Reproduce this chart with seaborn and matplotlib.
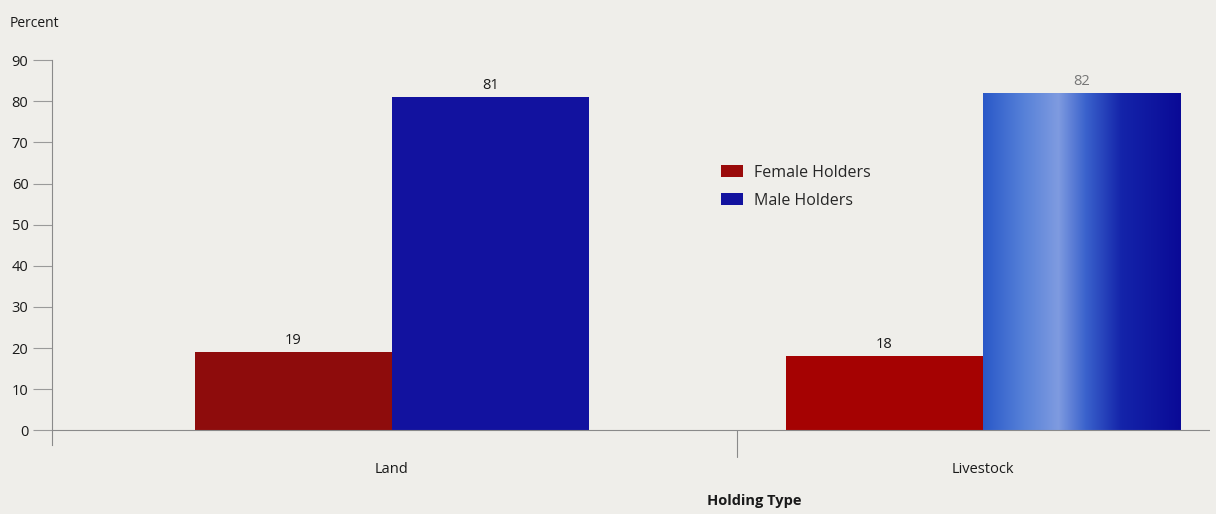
import matplotlib
matplotlib.use("Agg")
import matplotlib.pyplot as plt
import seaborn as sns
import numpy as np
import pandas as pd
from matplotlib.patches import Patch
from matplotlib.colors import LinearSegmentedColormap

categories = ["Land", "Livestock"]
series = ["Female Holders", "Male Holders"]
female_values = [19, 18]
male_values = [81, 82]
yticks = [0, 10, 20, 30, 40, 50, 60, 70, 80, 90]

df = pd.DataFrame({
    "Holding Type": categories * 2,
    "Holder": [series[0]] * 2 + [series[1]] * 2,
    "Percent": female_values + male_values,
})

bg = "#efeeea"
sns.set_theme(style="white")
plt.rcParams["font.family"] = ["Open Sans", "DejaVu Sans"]

fig = plt.figure(figsize=(12.16, 5.14), dpi=100, facecolor=bg)
ax = fig.add_axes([0.0428, 0.134, 0.9522, 0.749])
ax.set_facecolor(bg)

palette = {"Female Holders": "#9a0a0a", "Male Holders": "#12129f"}
sns.barplot(data=df, x="Holding Type", y="Percent", hue="Holder",
            palette=palette, width=0.667, saturation=1, ax=ax,
            legend=False, linewidth=0, errorbar=None)

bars = [p for p in ax.patches]
female_cols = ["#8e0c0c", "#a50202"]
for p, c in zip(bars[:2], female_cols):
    p.set_facecolor(c)

# Gradient for Livestock male bar
gbar = bars[3]
cmap = LinearSegmentedColormap.from_list(
    "g", [(0.0, "#2a58c8"), (0.2, "#5580d8"), (0.38, "#7f9be0"),
          (0.52, "#3a62cc"), (0.7, "#1424aa"), (1.0, "#0a0a96")])
grad = np.linspace(0, 1, 256).reshape(1, -1)
x0, w = gbar.get_x(), gbar.get_width()
h = gbar.get_height()
im = ax.imshow(grad, cmap=cmap, aspect="auto",
               extent=[x0, x0 + w, 0, h], zorder=gbar.get_zorder() + 0.1)
im.set_clip_path(gbar)

ax.set_xlim(-0.575, 1.384)
ax.set_ylim(-3.6, 90)
ax.set_yticks(yticks)
ax.set_yticklabels([str(v) for v in yticks])
ax.set_xticks([0, 1])
ax.set_xticklabels(categories)
ax.set_xlabel("")
ax.set_ylabel("")

for s in ["top", "right", "bottom"]:
    ax.spines[s].set_visible(False)
ax.spines["left"].set_color("#8a8a8a")
ax.spines["left"].set_linewidth(0.8)
ax.spines["left"].set_bounds(-3.6, 90)
ax.axhline(0, color="#8a8a8a", lw=0.8, zorder=5)

ax.tick_params(axis="y", direction="out", length=14, width=0.8,
               color="#9a9a9a", labelsize=10.5, pad=3, labelcolor="#1a1a1a", left=True)
ax.tick_params(axis="x", length=0, labelsize=10.5, pad=12, labelcolor="#1a1a1a")
ax.plot([0.584, 0.584], [0, -6.5], color="#8a8a8a", lw=0.8, clip_on=False)

label_colors = ["#1a1a1a", "#1a1a1a", "#1a1a1a", "#777777"]
order_vals = female_values + male_values
for p, v, c in zip(bars, order_vals, label_colors):
    ax.text(p.get_x() + p.get_width() / 2, v + 1.0, str(v), ha="center",
            va="bottom", fontsize=10.5, color=c)

handles = [Patch(facecolor=palette[s], edgecolor="none") for s in series]
leg = ax.legend(handles, series, loc="upper left", bbox_to_anchor=(0.572, 0.745),
                frameon=False, fontsize=11.5, handlelength=1.4, handleheight=0.8,
                labelspacing=0.75, handletextpad=0.7, borderaxespad=0)

fig.text(0.008, 0.955, "Percent", fontsize=10, color="#1a1a1a", va="center")
fig.text(0.62, 0.025, "Holding Type", fontsize=10.5, fontweight="bold",
         color="#1a1a1a", ha="center", va="center")

fig.savefig("out.png", dpi=100, facecolor=bg)
